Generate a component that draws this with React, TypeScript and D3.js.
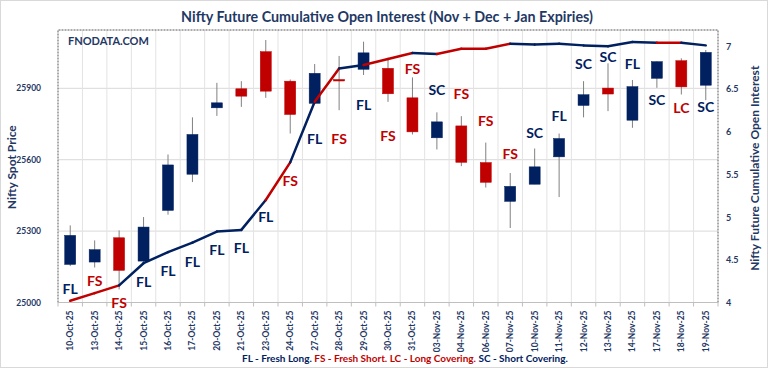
import * as d3 from "d3";

const W = 768, H = 368;
const PLOT = { left: 58, right: 718, top: 30, bottom: 302.5 };
const BLUE = "#002060", RED = "#C00000", INK = "#1F3864";
const FONT = "Lato, 'Open Sans', sans-serif";

const dates = [
  "10-Oct-25", "13-Oct-25", "14-Oct-25", "15-Oct-25", "16-Oct-25", "17-Oct-25", "20-Oct-25",
  "21-Oct-25", "23-Oct-25", "24-Oct-25", "27-Oct-25", "28-Oct-25", "29-Oct-25", "30-Oct-25",
  "31-Oct-25", "03-Nov-25", "04-Nov-25", "06-Nov-25", "07-Nov-25", "10-Nov-25", "11-Nov-25",
  "12-Nov-25", "13-Nov-25", "14-Nov-25", "17-Nov-25", "18-Nov-25", "19-Nov-25",
];
const open = [25160, 25170, 25272, 25174, 25387, 25539, 25818, 25898, 26054, 25930, 25837, 25937, 25980, 25984, 25860, 25692, 25742, 25588, 25425, 25497, 25612, 25828, 25901, 25766, 25942, 26016, 25913];
const high = [25324, 25261, 25303, 25359, 25622, 25778, 25923, 25930, 26103, 25937, 26002, 26036, 26096, 26026, 25946, 25799, 25783, 25672, 25544, 25647, 25710, 25930, 26005, 25935, 26013, 26026, 26061];
const low = [25153, 25147, 25055, 25168, 25369, 25506, 25784, 25822, 25860, 25710, 25835, 25808, 25956, 25843, 25706, 25643, 25573, 25483, 25313, 25497, 25443, 25778, 25804, 25734, 25902, 25874, 25850];
const close = [25282, 25222, 25135, 25317, 25578, 25706, 25839, 25867, 25888, 25790, 25963, 25933, 26049, 25877, 25717, 25759, 25589, 25505, 25488, 25570, 25689, 25873, 25876, 25907, 26012, 25906, 26051];
// cumulative OI (crore)
const oi = [4.02, 4.11, 4.2, 4.46, 4.59, 4.7, 4.83, 4.85, 5.2, 5.64, 6.35, 6.74, 6.78, 6.85, 6.92, 6.91, 6.97, 6.97, 7.03, 7.02, 7.03, 7.01, 7.0, 7.05, 7.04, 7.04, 7.01];
const tags = ["FL", "FS", "FS", "FL", "FL", "FL", "FL", "FL", "FL", "FS", "FL", "FS", "FL", "FS", "FS", "SC", "FS", "FS", "FS", "SC", "FL", "SC", "SC", "FL", "SC", "LC", "SC"];
// where each tag sits, in spot-price units
const tagAt = [25055, 25090, 24997, 25088, 25132, 25171, 25222, 25229, 25359, 25511, 25685, 25685, 25829, 25699, 25980, 25893, 25874, 25762, 25623, 25713, 25783, 26002, 26033, 26001, 25850, 25818, 25822];

const priceTicks = [25000, 25300, 25600, 25900];
const oiTicks = [4, 4.5, 5, 5.5, 6, 6.5, 7];

const tagColor = (t: string) => (t === "FS" || t === "LC" ? RED : BLUE);

export default function App() {
  const x = d3.scaleBand(dates, [PLOT.left, PLOT.right]);
  const bw = x.bandwidth();
  const cx = (i: number) => x(dates[i])! + bw / 2;
  const y = d3.scaleLinear([25000, 26145], [PLOT.bottom, PLOT.top]);
  const y2 = d3.scaleLinear([4, 7.19], [PLOT.bottom, PLOT.top]);
  const bodyW = bw * 0.45;

  return (
    <svg width={W} height={H} style={{ position: "absolute", left: 0, top: 0, background: "#fff" }}>
      <rect x={0.5} y={0.5} width={W - 1} height={H - 1} fill="#fff" stroke="#d9d9d9" />

      {/* Title */}
      <text x={387} y={22} textAnchor="middle" fontFamily={FONT} fontWeight="bold" fontSize={14.3} fill={INK}>
        Nifty Future Cumulative Open Interest (Nov + Dec + Jan Expiries)
      </text>

      {/* Grid */}
      {priceTicks.slice(1).map((t) => (
        <line key={t} x1={PLOT.left} x2={PLOT.right} y1={y(t)} y2={y(t)} stroke="#d9d9d9" />
      ))}
      {dates.slice(1).map((d) => (
        <line key={d} x1={x(d)} x2={x(d)} y1={PLOT.top} y2={PLOT.bottom} stroke="#e3e3e3" />
      ))}

      {/* Plot frame */}
      <path d={`M${PLOT.left},${PLOT.bottom}V${PLOT.top}H${PLOT.right}V${PLOT.bottom}`}
        fill="none" stroke="#595959" strokeDasharray="2,1" />
      <line x1={PLOT.left} x2={PLOT.right} y1={PLOT.bottom} y2={PLOT.bottom} stroke="#bfbfbf" />
      {dates.map((d) => (
        <line key={d} x1={x(d)} x2={x(d)} y1={PLOT.bottom} y2={PLOT.bottom + 4} stroke="#bfbfbf" />
      ))}
      <line x1={PLOT.right} x2={PLOT.right} y1={PLOT.bottom} y2={PLOT.bottom + 4} stroke="#bfbfbf" />

      <text x={68} y={45} fontFamily={FONT} fontWeight="bold" fontSize={11} fill={INK}>FNODATA.COM</text>

      {/* Candles */}
      {dates.map((d, i) => {
        const up = close[i] >= open[i];
        const top = y(Math.max(open[i], close[i]));
        const bot = y(Math.min(open[i], close[i]));
        return (
          <g key={d}>
            <line x1={cx(i)} x2={cx(i)} y1={y(high[i])} y2={y(low[i])} stroke="#808080" strokeWidth={1} />
            <rect x={cx(i) - bodyW / 2} y={top} width={bodyW} height={Math.max(bot - top, 1.5)}
              fill={up ? BLUE : RED} stroke={up ? BLUE : RED} strokeWidth={0.5} />
          </g>
        );
      })}

      {/* OI line, each segment coloured by the day it ends on */}
      {oi.slice(1).map((v, k) => {
        const i = k + 1;
        return (
          <line key={i} x1={cx(i - 1)} y1={y2(oi[i - 1])} x2={cx(i)} y2={y2(v)}
            stroke={tagColor(tags[i])} strokeWidth={2.5} strokeLinecap="round" />
        );
      })}

      {/* Tags */}
      {tags.map((t, i) => (
        <text key={i} x={cx(i)} y={y(tagAt[i]) + 5} textAnchor="middle" fontFamily={FONT}
          fontWeight="bold" fontSize={14} fill={tagColor(t)}>{t}</text>
      ))}

      {/* Left axis */}
      {priceTicks.map((t) => (
        <text key={t} x={41} y={y(t) + 3} textAnchor="end" fontFamily={FONT} fontWeight="bold"
          fontSize={8.5} fill={INK}>{t}</text>
      ))}
      <text transform={`translate(16,${(PLOT.top + PLOT.bottom) / 2 + 1}) rotate(-90)`} textAnchor="middle"
        fontFamily={FONT} fontWeight="bold" fontSize={12} fill={INK}>Nifty Spot Price</text>

      {/* Right axis */}
      {oiTicks.map((t) => (
        <text key={t} x={726} y={y2(t) + 3.5} fontFamily={FONT} fontWeight="bold" fontSize={9} fill={INK}>{t}</text>
      ))}
      <text transform={`translate(759,${(PLOT.top + PLOT.bottom) / 2 + 2}) rotate(-90)`} textAnchor="middle"
        fontFamily={FONT} fontWeight="bold" fontSize={12} fill={INK}>Nifty Future Cumulative Open Interest</text>

      {/* X labels */}
      {dates.map((d, i) => (
        <text key={d} transform={`translate(${cx(i) + 3},${PLOT.bottom + 8}) rotate(-90)`} textAnchor="end"
          fontFamily={FONT} fontWeight="bold" fontSize={8.5} fill={INK}>{d}</text>
      ))}

      {/* Legend */}
      <text x={405} y={361.5} textAnchor="middle" fontFamily={FONT} fontWeight="bold" fontSize={10}>
        <tspan fill={BLUE}>FL - Fresh Long. </tspan>
        <tspan fill={RED}>FS - Fresh Short. LC - Long Covering. </tspan>
        <tspan fill={BLUE}>SC - Short Covering.</tspan>
      </text>
    </svg>
  );
}
